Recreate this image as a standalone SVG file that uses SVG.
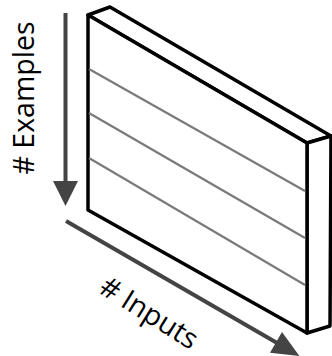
<svg xmlns="http://www.w3.org/2000/svg" width="332" height="356" viewBox="0 0 332 356">
<style>
.edge{fill:#fff;stroke:#000;stroke-width:3.5;stroke-linejoin:round}
.row{stroke:#7a7a7a;stroke-width:2.2;fill:none}
.ax{stroke:#444;stroke-width:4;fill:none}
.head{fill:#444}
.lbl{font-family:"Open Sans","Liberation Sans",sans-serif;font-size:28.5px;fill:#000}
</style>
<rect width="332" height="356" fill="#fff"/>
<g id="slab">
<polygon class="edge" points="88,15 110,7 331,136 307,143"/>
<polygon class="edge" points="307,143 331,136 330,326 307,333"/>
<polygon class="edge" points="88,15 307,143 307,333 88,210"/>
<line class="row" x1="89" y1="69" x2="305" y2="191"/>
<line class="row" x1="89" y1="113" x2="305" y2="238"/>
<line class="row" x1="89" y1="158" x2="305" y2="285"/>
</g>
<g id="connectors">
<line class="ax" x1="65.5" y1="13" x2="65.5" y2="184"/>
<polygon class="head" points="53,181 78,181 65.5,206"/>
<line class="ax" x1="66" y1="221" x2="278" y2="343.5"/>
<polygon class="head" points="282,332 270,352.8 299.4,355.9"/>
</g>
<g id="label-examples">
<text class="lbl" x="0" y="0" text-anchor="middle" transform="translate(34,98) rotate(-90)"># Examples</text>
</g>
<g id="label-inputs">
<text class="lbl" x="0" y="0" text-anchor="middle" transform="translate(144,321) rotate(32)"># Inputs</text>
</g>
</svg>
